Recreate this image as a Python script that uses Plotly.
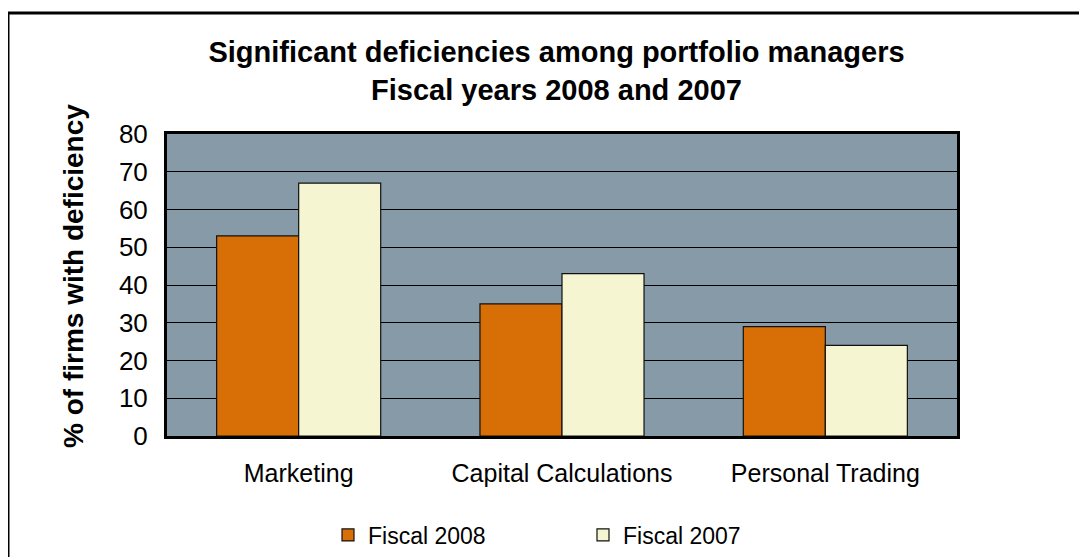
import plotly.graph_objects as go

categories = ['Marketing', 'Capital Calculations', 'Personal Trading']
fiscal_2008 = [53, 35, 29]
fiscal_2007 = [67, 43, 24]
y_ticks = [0, 10, 20, 30, 40, 50, 60, 70, 80]

W, H = 1087, 557
OFF = 8  # page body margin shifts the figure by 8px
# plot area in screen pixels: x 167..957, y 134..436
L, T = 167 - OFF, 134 - OFF
R, B = W - (957 - OFF), H - (436 - OFF)
pw, ph = W - L - R, H - T - B
font = 'Arial, Liberation Sans, sans-serif'


def px_x(x):
    return (x - OFF - L) / pw


def px_y(y):
    return (H - B - (y - OFF)) / ph


fig = go.Figure()
fig.add_trace(go.Bar(x=categories, y=fiscal_2008, name='Fiscal 2008',
                     marker=dict(color='#D86E06', line=dict(color='#111111', width=1.2))))
fig.add_trace(go.Bar(x=categories, y=fiscal_2007, name='Fiscal 2007',
                     marker=dict(color='#F5F6D1', line=dict(color='#111111', width=1.2))))

fig.update_layout(
    width=W, height=H,
    margin=dict(l=L, r=R, t=T, b=B, autoexpand=False),
    paper_bgcolor='white', plot_bgcolor='#869AA8',
    barmode='group', bargap=0.377, bargroupgap=0,
    font=dict(family=font, size=25, color='black'),
    title=dict(text='<b>Significant deficiencies among portfolio managers<br>Fiscal years 2008 and 2007</b>',
               x=(556.5 - OFF) / W, xanchor='center', y=1 - (62 - OFF) / H, yanchor='middle',
               font=dict(family=font, size=29, color='black')),
    legend=dict(orientation='h', x=px_x(328), xanchor='left', y=px_y(535), yanchor='middle',
                font=dict(family=font, size=23, color='black'),
                entrywidth=210, entrywidthmode='pixels', traceorder='normal',
                bgcolor='rgba(0,0,0,0)'),
    showlegend=True,
)

fig.update_xaxes(showline=True, linecolor='black', linewidth=3, mirror=True,
                 showgrid=False, ticks='', ticklabelstandoff=13,
                 tickfont=dict(family=font, size=25, color='black'))
fig.update_yaxes(range=[0, 80], tickvals=y_ticks, showline=True, linecolor='black',
                 linewidth=3, mirror=True, showgrid=True, gridcolor='black', gridwidth=1,
                 zeroline=False, ticks='', ticklabelstandoff=11,
                 tickfont=dict(family=font, size=26, color='black'))

fig.add_annotation(text='<b>% of firms with deficiency</b>', textangle=-90,
                   xref='paper', yref='paper', x=px_x(73), y=px_y(276),
                   xanchor='center', yanchor='middle', showarrow=False,
                   font=dict(family=font, size=28, color='black'))

# outer chart frame (only left and top edges fall inside the picture)
fig.add_shape(type='rect', xref='paper', yref='paper',
              x0=px_x(8), x1=px_x(W + 30), y0=px_y(H + 30), y1=px_y(13),
              line=dict(color='black', width=3), fillcolor='rgba(0,0,0,0)', layer='below')

fig.write_html('out.html')
